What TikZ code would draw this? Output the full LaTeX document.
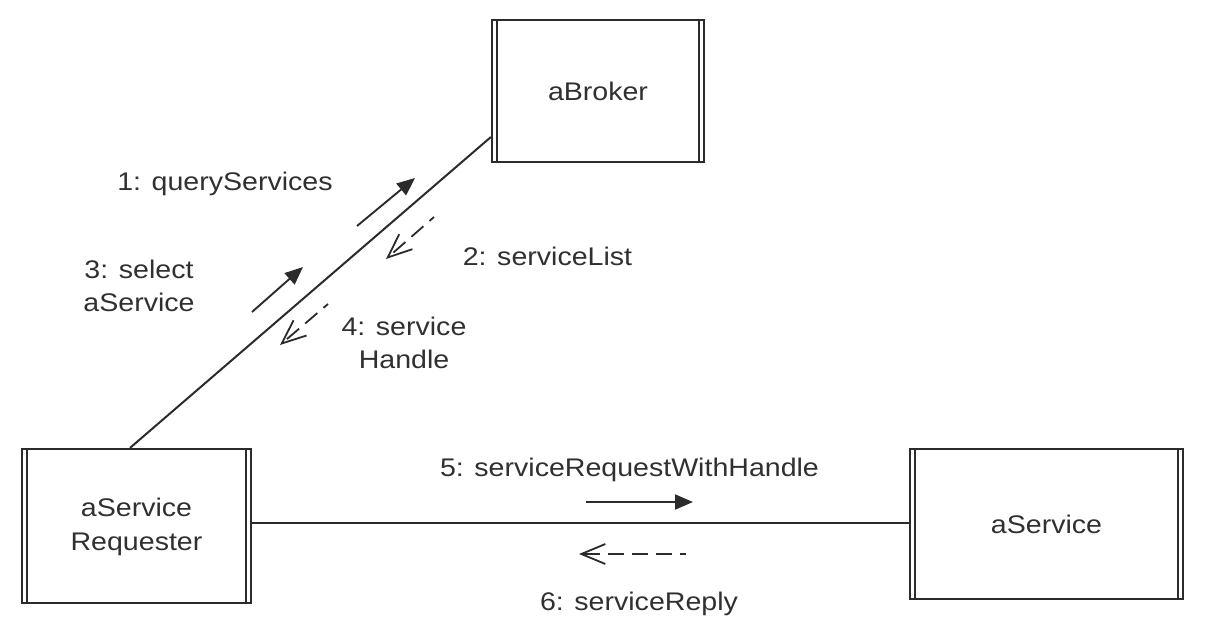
\documentclass[tikz,border=0pt]{standalone}
\usepackage{fontspec}
\setmainfont{Liberation Sans}[FakeStretch=1.12]
\usetikzlibrary{arrows.meta}
\definecolor{ink}{HTML}{2B2B2B}
\definecolor{txt}{HTML}{303030}
\begin{document}
\begin{tikzpicture}[x=1pt,y=-1pt,
  lbl/.style={font=\fontsize{25.5}{33}\selectfont, text=txt, align=center, inner sep=0pt},
  obj/.style={draw=ink, line width=2.2pt, inner sep=0pt, font=\fontsize{25.5}{34}\selectfont, text=txt, align=center},
  inner/.style={ink, line width=2.2pt},
  link/.style={ink, line width=2pt},
  syncmsg/.style={ink, line width=1.9pt, -{Triangle[length=18pt,width=15pt]}},
  replymsg/.style={ink, line width=1.8pt, dash pattern=on 16pt off 8pt, dash phase=10pt, -{Straight Barb[length=24pt,width=20pt]}}
]
\useasboundingbox (0,0) rectangle (1213,625);

% objects
\node[obj, minimum width=229pt, minimum height=154pt] (req) at (136.5,526) {};
\node[obj, draw=none, anchor=base] (reqtxt) at (req.center |- 0,550) {aService\\Requester};
\node[obj, minimum width=212pt, minimum height=142pt] (brk) at (598,91) {aBroker};
\node[obj, minimum width=273pt, minimum height=150pt] (srv) at (1046.5,524) {aService};

% inner vertical lines (active objects)
\foreach \n in {brk,req,srv}{
  \draw[inner] ([xshift=6pt]\n.north west) -- ([xshift=6pt]\n.south west);
  \draw[inner] ([xshift=-6pt]\n.north east) -- ([xshift=-6pt]\n.south east);
}

% links
\draw[link] ([xshift=-6.5pt]req.north) -- ([yshift=-46pt]brk.west);
\draw[link] (req.east |- 0,523) -- (srv.west |- 0,523);

% message arrows
\coordinate (m1s) at (357,226); \coordinate (m1e) at (415,178);
\coordinate (m2s) at (434,217); \coordinate (m2e) at (386,259);
\coordinate (m3s) at (252,312); \coordinate (m3e) at (303,267);
\coordinate (m4s) at (328,304); \coordinate (m4e) at (280,345);
\coordinate (m5s) at (586,502); \coordinate (m5e) at (693,502);
\coordinate (m6s) at (686,554); \coordinate (m6e) at (579,554);
\draw[syncmsg] (m1s) -- (m1e);
\draw[replymsg] (m2s) -- (m2e);
\draw[syncmsg] (m3s) -- (m3e);
\draw[replymsg] (m4s) -- (m4e);
\draw[syncmsg] (m5s) -- (m5e);
\draw[replymsg] (m6s) -- (m6e);

% labels
\node[lbl, anchor=base] (l1) at (225,190) {1: queryServices};
\node[lbl, anchor=base] (l2) at (547.5,265) {2: serviceList};
\node[lbl, anchor=base] (l3) at (139,311) {3: select\\aService};
\node[lbl, anchor=base] (l4) at (404,368) {4: service\\Handle};
\node[lbl, anchor=base] (l5) at (629.5,476) {5: serviceRequestWithHandle};
\node[lbl, anchor=base] (l6) at (639,610) {6: serviceReply};
\end{tikzpicture}
\end{document}
